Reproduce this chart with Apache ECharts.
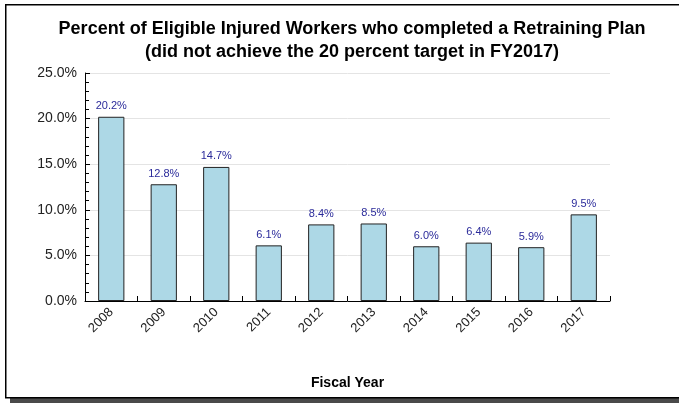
<!DOCTYPE html>
<html><head><meta charset="utf-8">
<script src="https://cdn.jsdelivr.net/npm/echarts@6/dist/echarts.min.js"></script>
<style>html,body{margin:0;padding:0;background:#fff}#c{width:679px;height:403px}</style>
</head><body><div id="c"></div>
<script>
const categories = ['2008','2009','2010','2011','2012','2013','2014','2015','2016','2017'];
const percentValues = [20.2, 12.8, 14.7, 6.1, 8.4, 8.5, 6.0, 6.4, 5.9, 9.5];
const titleLines = ['Percent of Eligible Injured Workers who completed a Retraining Plan', '(did not achieve the 20 percent target in FY2017)'];
const xAxisName = 'Fiscal Year';

const chart = echarts.init(document.getElementById('c'), null, {renderer:'canvas'});
const font = '"Liberation Sans", Arial, sans-serif';
chart.setOption({
  animation: false,
  textStyle: {fontFamily: font},
  graphic: {
    elements: [
      {type:'rect', left: 10, top: 397, z: -11, shape:{width: 680, height: 7}, style:{fill:'#4a4a4a'}},
      {type:'rect', left: 5, top: 4, z: -10, shape:{width: 690, height: 393}, style:{fill:'#fff', stroke:'#000', lineWidth:1.5}}
    ]
  },
  title: {
    text: titleLines.join('\n'),
    left: 347, textAlign: 'center', top: 13,
    textStyle: {fontFamily: font, fontSize: 18, fontWeight: 'bold', color: '#000', lineHeight: 23}
  },
  grid: {left: 85, right: 69, top: 73, bottom: 102, containLabel: false},
  xAxis: {
    type: 'category', data: categories,
    name: xAxisName, nameLocation: 'middle', nameGap: 75,
    nameTextStyle: {fontFamily: font, fontSize: 14, fontWeight: 'bold', color: '#000', verticalAlign: 'top'},
    axisLine: {lineStyle: {color: '#000', width: 1}},
    axisTick: {show: true, inside: true, length: 5, lineStyle: {color: '#000'}},
    axisLabel: {rotate: 45, fontSize: 13, color: '#222', margin: 9, fontFamily: font},
    splitLine: {show: false}
  },
  yAxis: {
    type: 'value', min: 0, max: 25, interval: 5,
    axisLine: {show: true, lineStyle: {color: '#000', width: 1}},
    axisTick: {show: true, inside: true, length: 5, lineStyle: {color: '#000'}},
    minorTick: {show: true, splitNumber: 5, length: 4, lineStyle: {color: '#000'}},
    axisLabel: {formatter: v => v.toFixed(1) + '%', fontSize: 14, color: '#222', margin: 8, fontFamily: font},
    splitLine: {show: true, lineStyle: {color: '#e4e4e4', width: 1}}
  },
  series: [{
    type: 'bar', data: percentValues, barWidth: '50%',
    itemStyle: {color: '#add8e6', borderColor: '#222', borderWidth: 1},
    label: {show: true, position: 'top', distance: 5, formatter: p => p.value.toFixed(1) + '%', color: '#2a2a9a', fontSize: 11, fontFamily: font}
  }]
});
</script></body></html>
